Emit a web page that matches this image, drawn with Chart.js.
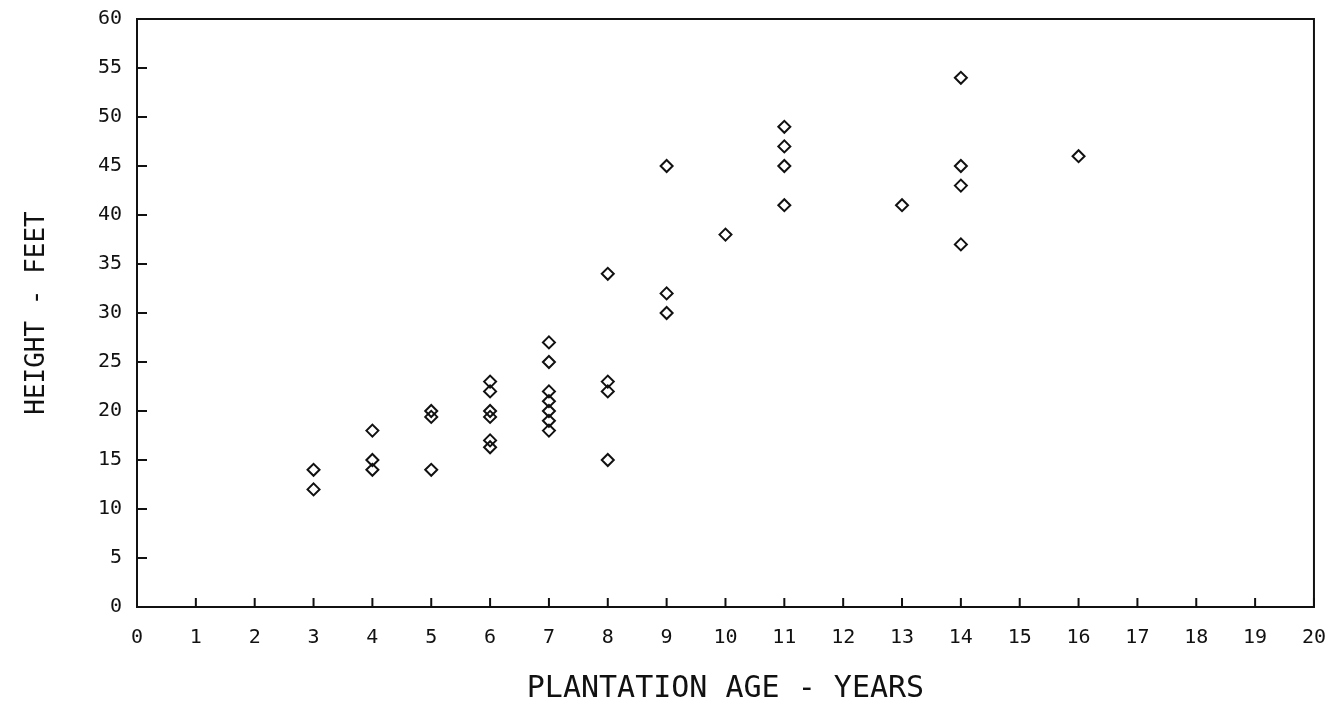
<!DOCTYPE html>
<html>
<head>
<meta charset="utf-8">
<script src="https://cdn.jsdelivr.net/npm/chart.js@4"></script>
<style>
  html, body { margin: 0; padding: 0; background: #fff; }
  #wrap { width: 1337px; height: 715px; }
</style>
</head>
<body>
<div id="wrap"><canvas id="plot"></canvas></div>
<script>
// plantation age (years) and height (feet)
const ages = [
    3, 3,
    4, 4, 4,
    5, 5, 5,
    6, 6, 6, 6, 6, 6,
    7, 7, 7, 7, 7, 7, 7,
    8, 8, 8, 8,
    9, 9, 9,
    10,
    11, 11, 11, 11,
    13,
    14, 14, 14, 14,
    16
];
const heights = [
    14, 12,
    18, 15, 14,
    20, 19.4, 14,
    23, 22, 20, 19.4, 17, 16.3,
    27, 25, 22, 21, 20, 19, 18,
    34, 23, 22, 15,
    45, 32, 30,
    38,
    49, 47, 45, 41,
    41,
    54, 45, 43, 37,
    46
];
const xTicks = [0, 1, 2, 3, 4, 5, 6, 7, 8, 9, 10, 11, 12, 13, 14, 15, 16, 17, 18, 19, 20];
const yTicks = [0, 5, 10, 15, 20, 25, 30, 35, 40, 45, 50, 55, 60];

const points = ages.map((a, i) => ({ x: a, y: heights[i] }));

// frame round the plot area and short inward tick marks
const framePlugin = {
    id: "frame",
    afterDraw(chart) {
        const c = chart.ctx;
        const a = chart.chartArea;
        const xs = chart.scales.x;
        const ys = chart.scales.y;
        c.save();
        c.strokeStyle = "#111";
        c.lineWidth = 2;
        c.strokeRect(a.left, a.top, a.right - a.left, a.bottom - a.top);
        c.beginPath();
        xTicks.forEach(v => {
            const px = xs.getPixelForValue(v);
            c.moveTo(px, a.bottom);
            c.lineTo(px, a.bottom - 9);
        });
        yTicks.forEach(v => {
            const py = ys.getPixelForValue(v);
            c.moveTo(a.left, py);
            c.lineTo(a.left + 10, py);
        });
        c.stroke();
        c.restore();
    }
};

new Chart(document.getElementById("plot"), {
    type: "scatter",
    data: {
        datasets: [{
            data: points,
            pointStyle: "rectRot",
            pointRadius: 6,
            pointBorderWidth: 2,
            borderColor: "#111",
            backgroundColor: "rgba(255,255,255,0)"
        }]
    },
    options: {
        responsive: true,
        maintainAspectRatio: false,
        animation: false,
        layout: { padding: { top: 13, right: 12 } },
        plugins: {
            legend: { display: false },
            tooltip: { enabled: false }
        },
        scales: {
            x: {
                type: "linear",
                min: 0,
                max: 20,
                afterBuildTicks: s => { s.ticks = xTicks.map(v => ({ value: v })); },
                afterFit: s => { s.height = 108; },
                grid: { display: false },
                border: { display: false },
                ticks: {
                    color: "#111",
                    padding: 11,
                    maxRotation: 0,
                    font: { family: "DejaVu Sans Mono", size: 20 }
                },
                title: {
                    display: true,
                    text: "PLANTATION AGE - YEARS",
                    color: "#111",
                    padding: { bottom: 8 },
                    font: { family: "DejaVu Sans Mono", size: 30 }
                }
            },
            y: {
                type: "linear",
                min: 0,
                max: 60,
                afterBuildTicks: s => { s.ticks = yTicks.map(v => ({ value: v })); },
                afterFit: s => { s.width = 137; },
                grid: { display: false },
                border: { display: false },
                ticks: {
                    color: "#111",
                    padding: 7,
                    font: { family: "DejaVu Sans Mono", size: 20 }
                },
                title: {
                    display: true,
                    text: "HEIGHT - FEET",
                    color: "#111",
                    padding: { top: 22 },
                    font: { family: "DejaVu Sans Mono", size: 26 }
                }
            }
        }
    },
    plugins: [framePlugin]
});
</script>
</body>
</html>
